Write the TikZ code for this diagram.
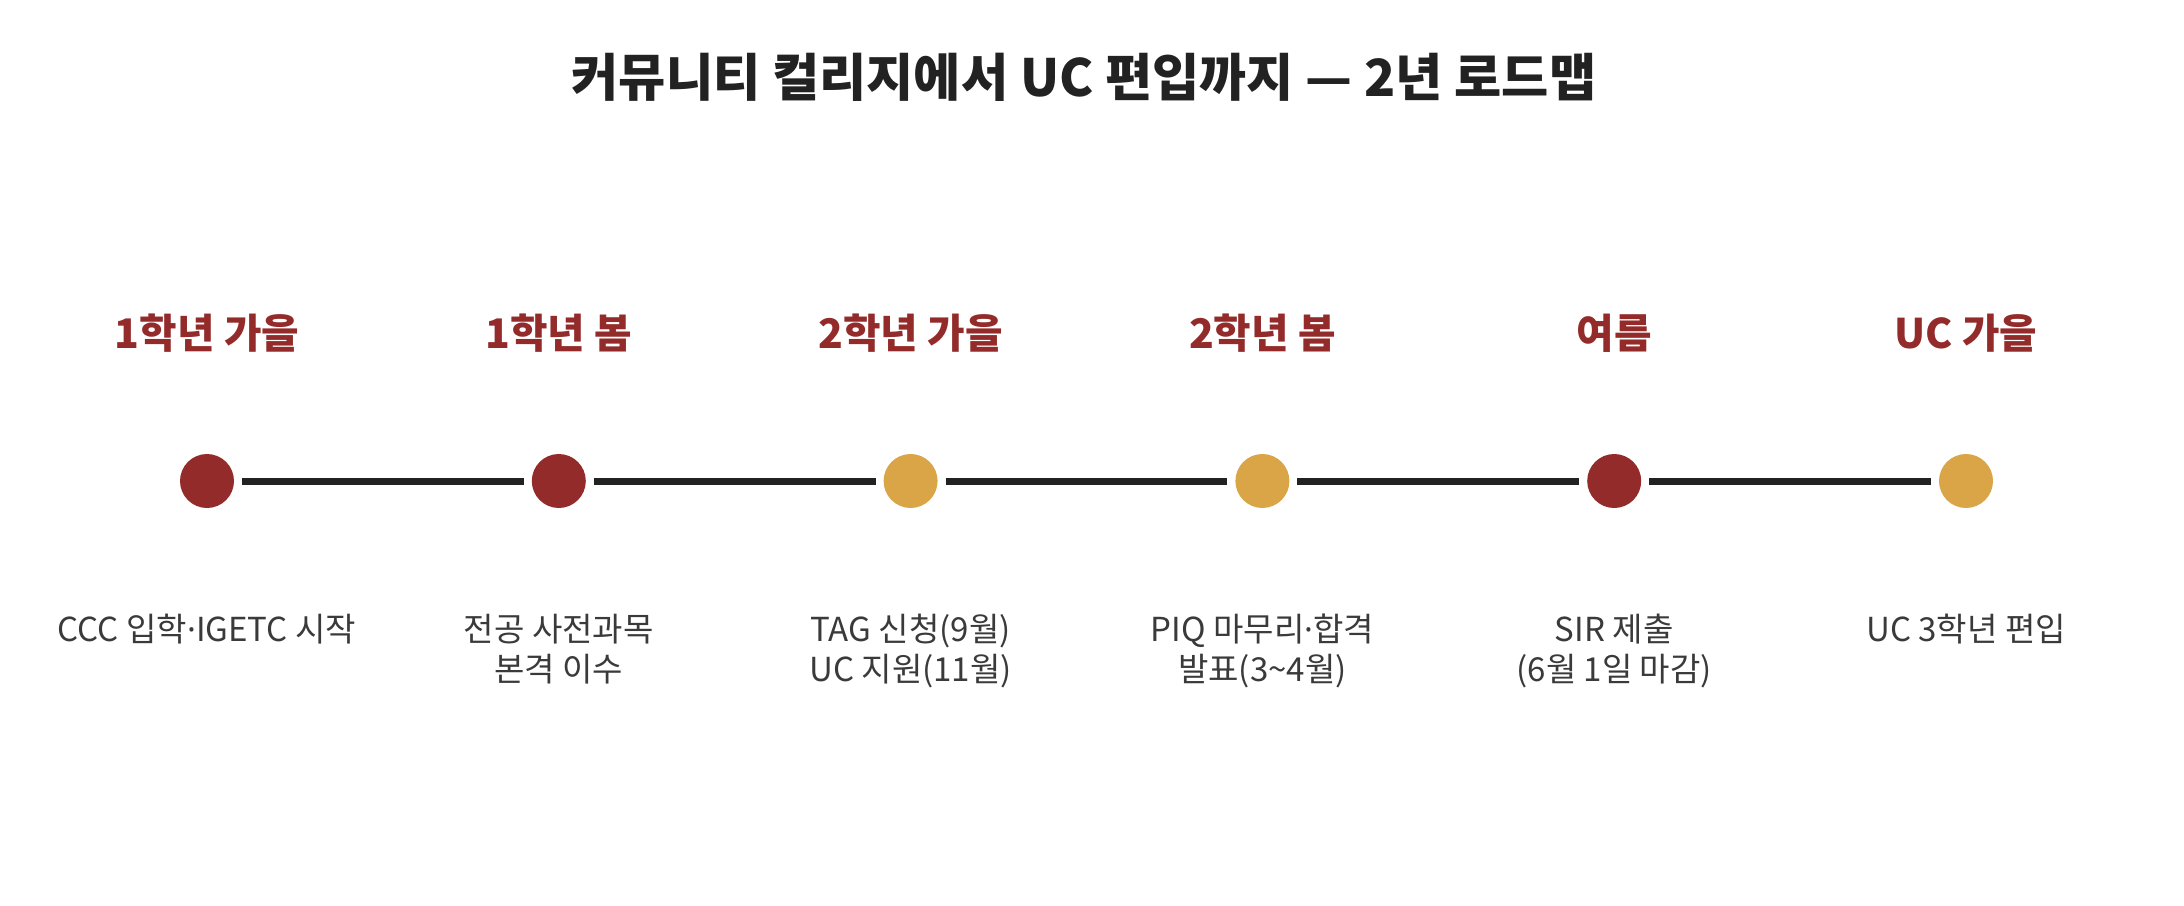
\documentclass[tikz,border=0pt]{standalone}
\usepackage{fontspec}
\setmainfont{Noto Sans CJK KR}
\newfontfamily\dotfont{Noto Sans}
\usepackage{tikz}
\usetikzlibrary{positioning}

\definecolor{roadred}{HTML}{922B29}
\definecolor{roadgold}{HTML}{D9A546}
\definecolor{roadline}{HTML}{222222}
\definecolor{roadtext}{HTML}{3A3A3A}
\newcommand{\middot}{{\dotfont ·}}

\begin{document}
\begin{tikzpicture}[
        dot/.style={
            circle,
            minimum size=0.54cm,
            inner sep=0pt,
            outer sep=0pt
        },
        link/.style={
            draw=roadline,
            line width=0.07cm,
            shorten >=0.08cm,
            shorten <=0.08cm
        },
        period/.style={
            font=\bfseries\fontsize{11.6}{13}\selectfont,
            text=roadred,
            inner sep=0pt
        },
        note/.style={
            font=\fontsize{9.4}{11.4}\selectfont,
            text=roadtext,
            align=center,
            anchor=north,
            inner sep=0pt
        },
        heading/.style={
            font=\bfseries\fontsize{14.6}{17}\selectfont,
            text=roadline
        }
    ]
    \useasboundingbox (0,0) rectangle (21.84,-9.06);

    % 제목
    \node[heading] (title) at (10.84,-0.77) {커뮤니티 컬리지에서 UC 편입까지 — 2년 로드맵};

    % 단계: 점, 시기, 설명
    \foreach \i/\col/\when/\what in {
        1/roadred/{1학년 가을}/{CCC 입학\middot IGETC 시작},
        2/roadred/{1학년 봄}/{전공 사전과목\\본격 이수},
        3/roadgold/{2학년 가을}/{TAG 신청(9월)\\UC 지원(11월)},
        4/roadgold/{2학년 봄}/{PIQ 마무리\middot 합격\\발표(3\textasciitilde 4월)},
        5/roadred/{여름}/{SIR 제출\\(6월 1일 마감)},
        6/roadgold/{UC 가을}/{UC 3학년 편입}} {
        \node[dot,fill=\col] (D\i) at ({2.07+(\i-1)*3.518},-4.81) {};
        \node[period] (P\i) at ({2.07+(\i-1)*3.518},-3.33) {\when};
        \node[note] (N\i) at ({2.07+(\i-1)*3.518},-6.13) {\what};
    }

    % 점 사이 연결선
    \foreach \a/\b in {1/2,2/3,3/4,4/5,5/6} {
        \draw[link] (D\a) -- (D\b);
    }

\end{tikzpicture}
\end{document}
